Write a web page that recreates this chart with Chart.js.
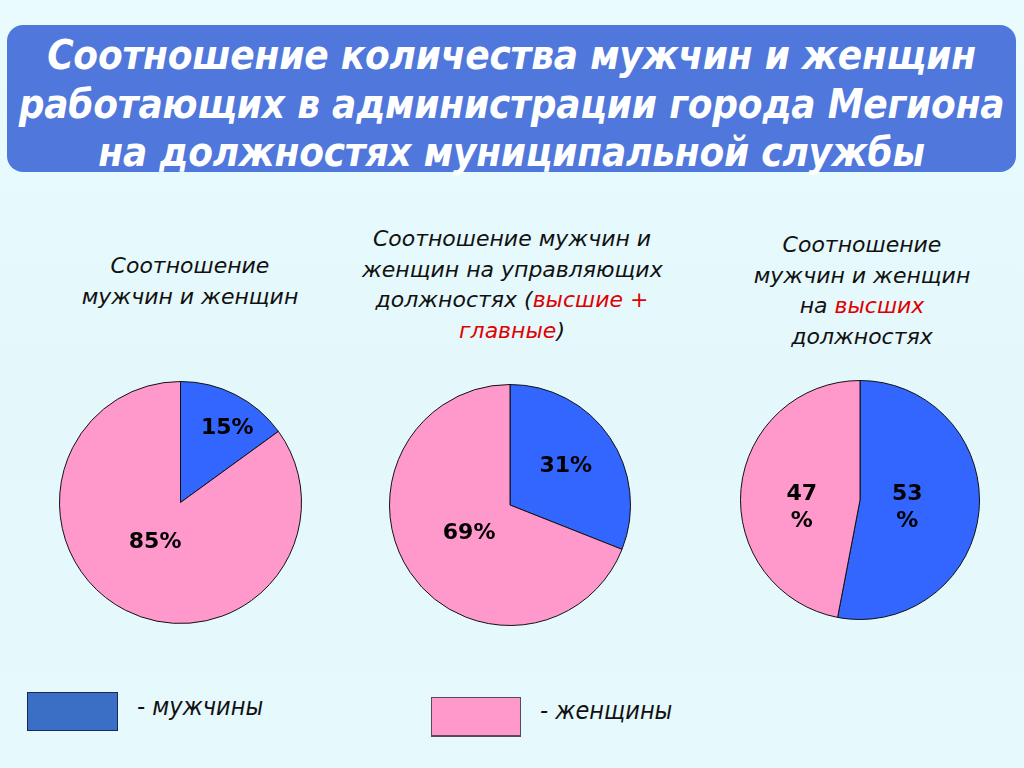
<!DOCTYPE html>
<html><head><meta charset="utf-8">
<script src="https://cdn.jsdelivr.net/npm/chart.js@4"></script>
<style>
html,body{margin:0;padding:0;}
body{width:1024px;height:768px;position:relative;overflow:hidden;
 background:linear-gradient(180deg,#e9fbfd 0%,#e4f8fc 50%,#e6f9fd 100%);
 font-family:"DejaVu Sans",Verdana,sans-serif;}
#title{position:absolute;left:7px;top:25px;width:1009px;height:147px;background:#5078dc;border-radius:16px;
 color:#fff;font-family:"DejaVu Sans Condensed","DejaVu Sans",sans-serif;font-weight:bold;font-style:italic;
 font-size:40px;line-height:48.5px;text-align:center;box-sizing:border-box;padding-top:6px;letter-spacing:-0.2px;white-space:nowrap;}
.sub{position:absolute;text-align:center;font-style:italic;font-size:22px;color:#111;line-height:30.7px;white-space:nowrap;}
.red{color:#e00000;}
.pie{position:absolute;}
.lg{position:absolute;}
.lgt{position:absolute;font-family:"DejaVu Sans Condensed","DejaVu Sans",sans-serif;font-style:italic;font-size:25px;color:#111;white-space:nowrap;}
</style></head><body>
<div id="title">Соотношение количества мужчин и женщин<br>работающих в администрации города Мегиона<br>на должностях муниципальной службы</div>

<div class="sub" style="left:40px;width:300px;top:251px;">Соотношение<br>мужчин и женщин</div>
<div class="sub" style="left:362px;width:300px;top:224px;">Соотношение мужчин и<br>женщин на управляющих<br>должностях (<span class="red">высшие +</span><br><span class="red">главные</span>)</div>
<div class="sub" style="left:712px;width:300px;top:230px;">Соотношение<br>мужчин и женщин<br>на <span class="red">высших</span><br>должностях</div>

<div class="pie" style="left:59px;top:381px;width:243px;height:243px;"><canvas id="c1"></canvas></div>
<div class="pie" style="left:389px;top:384px;width:242px;height:242px;"><canvas id="c2"></canvas></div>
<div class="pie" style="left:740px;top:380px;width:240px;height:240px;"><canvas id="c3"></canvas></div>

<div class="lg" style="left:27px;top:692px;width:89px;height:37px;background:#3b6fc6;border:1px solid #1a2a55;"></div>
<div class="lgt" style="left:137px;top:692px;">- мужчины</div>
<div class="lg" style="left:431px;top:697px;width:88px;height:37px;background:#ff99cc;border:1px solid #5a4a55;border-bottom:2px solid #5a4a55;"></div>
<div class="lgt" style="left:540px;top:696px;">- женщины</div>

<script>
const categories = ["мужчины", "женщины"];
const allStaff = [15, 85];
const managerial = [31, 69];
const senior = [53, 47];
const labelsAll = ["15%", "85%"];
const labelsManagerial = ["31%", "69%"];
const labelsSenior = ["53\n%", "47\n%"];

const sliceColors = ["#3366ff", "#ff99cc"];

const labelPlugin = {
  id: "sliceLabels",
  afterDatasetsDraw(chart, args, opts) {
    const ctx = chart.ctx;
    const meta = chart.getDatasetMeta(0);
    ctx.save();
    ctx.font = "bold 22px 'DejaVu Sans', Verdana, sans-serif";
    ctx.fillStyle = "#000";
    ctx.textAlign = "center";
    ctx.textBaseline = "middle";
    meta.data.forEach((arc, i) => {
      const p = arc.getProps(["x","y","startAngle","endAngle","outerRadius"], true);
      const mid = (p.startAngle + p.endAngle) / 2 + opts.turn[i] * Math.PI / 180;
      const r = p.outerRadius * opts.radii[i];
      const x = p.x + Math.cos(mid) * r;
      const y = p.y + Math.sin(mid) * r;
      const lines = opts.texts[i].split("\n");
      const lh = 27;
      lines.forEach((ln, k) => {
        ctx.fillText(ln, x, y + 1 + (k - (lines.length - 1) / 2) * lh);
      });
    });
    ctx.restore();
  }
};

function makePie(id, values, texts, radii, turn) {
  new Chart(document.getElementById(id), {
    type: "pie",
    data: {
      labels: categories,
      datasets: [{
        data: values,
        backgroundColor: sliceColors,
        borderColor: "#111",
        borderWidth: 1
      }]
    },
    options: {
      responsive: true,
      maintainAspectRatio: false,
      animation: false,
      layout: { padding: 0 },
      plugins: {
        legend: { display: false },
        tooltip: { enabled: false },
        sliceLabels: { texts: texts, radii: radii, turn: turn }
      }
    },
    plugins: [labelPlugin]
  });
}

makePie("c1", allStaff, labelsAll, [0.73, 0.38], [5, 6.5]);
makePie("c2", managerial, labelsManagerial, [0.567, 0.41], [-1, 0]);
makePie("c3", senior, labelsSenior, [0.40, 0.49], [2.4, -11.8]);
</script>
</body></html>
